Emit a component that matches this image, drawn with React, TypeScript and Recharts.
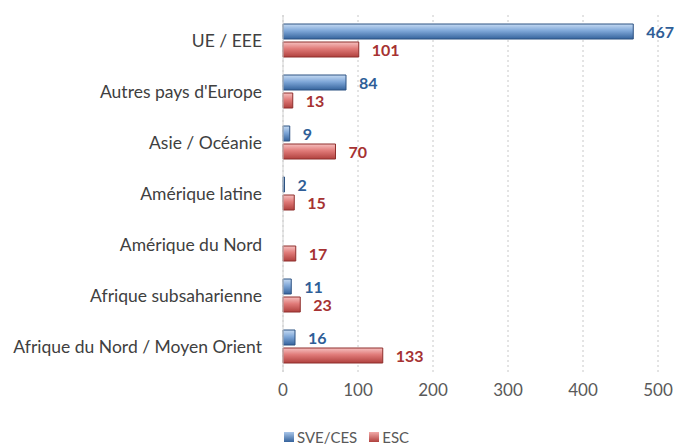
import React from 'react';
import { BarChart, Bar, XAxis, YAxis, CartesianGrid, LabelList } from 'recharts';

const regions = [
  'UE / EEE',
  "Autres pays d'Europe",
  'Asie / Océanie',
  'Amérique latine',
  'Amérique du Nord',
  'Afrique subsaharienne',
  'Afrique du Nord / Moyen Orient',
];
const sveCes: (number | null)[] = [467, 84, 9, 2, null, 11, 16];
const esc: number[] = [101, 13, 70, 15, 17, 23, 133];
const xTicks = [0, 100, 200, 300, 400, 500];

const data = regions.map((name, i) => ({ name, sve: sveCes[i], esc: esc[i] }));

const FONT = 'Lato, "Open Sans", sans-serif';

const ValueLabel = (color: string) => (props: any) => {
  const { x, y, width, height, value } = props;
  if (value === null || value === undefined) return null;
  return (
    <text
      x={x + width + 13}
      y={y + height / 2}
      dominantBaseline="central"
      fill={color}
      fontSize={16}
      fontWeight={700}
      fontFamily={FONT}
    >
      {value}
    </text>
  );
};

const LegendSwatch = ({ from, to }: { from: string; to: string }) => (
  <span
    style={{
      display: 'inline-block',
      width: 10,
      height: 10,
      marginRight: 3,
      background: `linear-gradient(${from}, ${to})`,
    }}
  />
);

export default function App() {
  return (
    <div style={{ position: 'absolute', left: 0, top: 0, width: 683, height: 446, background: '#fff' }}>
      <BarChart
        width={683}
        height={446}
        data={data}
        layout="vertical"
        margin={{ top: 15, right: 25, bottom: 40, left: 0 }}
        barSize={15}
        barGap={3}
      >
        <defs>
          <linearGradient id="gBlue" x1="0" y1="0" x2="0" y2="1">
            <stop offset="0%" stopColor="#c6dbf3" />
            <stop offset="45%" stopColor="#7fa7d8" />
            <stop offset="100%" stopColor="#35639c" />
          </linearGradient>
          <linearGradient id="gRed" x1="0" y1="0" x2="0" y2="1">
            <stop offset="0%" stopColor="#f6c1c0" />
            <stop offset="45%" stopColor="#e07a78" />
            <stop offset="100%" stopColor="#b0413e" />
          </linearGradient>
        </defs>
        <CartesianGrid horizontal={false} stroke="#c8c8c8" strokeDasharray="2 3" />
        <XAxis
          type="number"
          domain={[0, 500]}
          ticks={xTicks}
          axisLine={false}
          tickLine={false}
          height={34}
          tickMargin={6}
          tick={{ fontSize: 17, fill: '#595959', fontFamily: FONT }}
        />
        <YAxis
          type="category"
          dataKey="name"
          width={283}
          axisLine={{ stroke: '#d0d0d0' }}
          tickLine={false}
          tickMargin={15}
          interval={0}
          tick={{ fontSize: 17.5, fill: '#404040', fontFamily: FONT }}
        />
        <Bar dataKey="sve" fill="url(#gBlue)" stroke="#2c5282" strokeWidth={1} isAnimationActive={false}>
          <LabelList dataKey="sve" content={ValueLabel('#2f5e97')} />
        </Bar>
        <Bar dataKey="esc" fill="url(#gRed)" stroke="#8e2f2c" strokeWidth={1} isAnimationActive={false}>
          <LabelList dataKey="esc" content={ValueLabel('#a63232')} />
        </Bar>
      </BarChart>
      <div
        style={{
          position: 'absolute',
          top: 428,
          left: 284,
          fontFamily: FONT,
          fontSize: 15,
          color: '#595959',
          display: 'flex',
          alignItems: 'center',
          whiteSpace: 'nowrap',
        }}
      >
        <LegendSwatch from="#a9c6ea" to="#35639c" />
        <span style={{ marginRight: 12 }}>SVE/CES</span>
        <LegendSwatch from="#f2aaa8" to="#b0413e" />
        <span>ESC</span>
      </div>
    </div>
  );
}
